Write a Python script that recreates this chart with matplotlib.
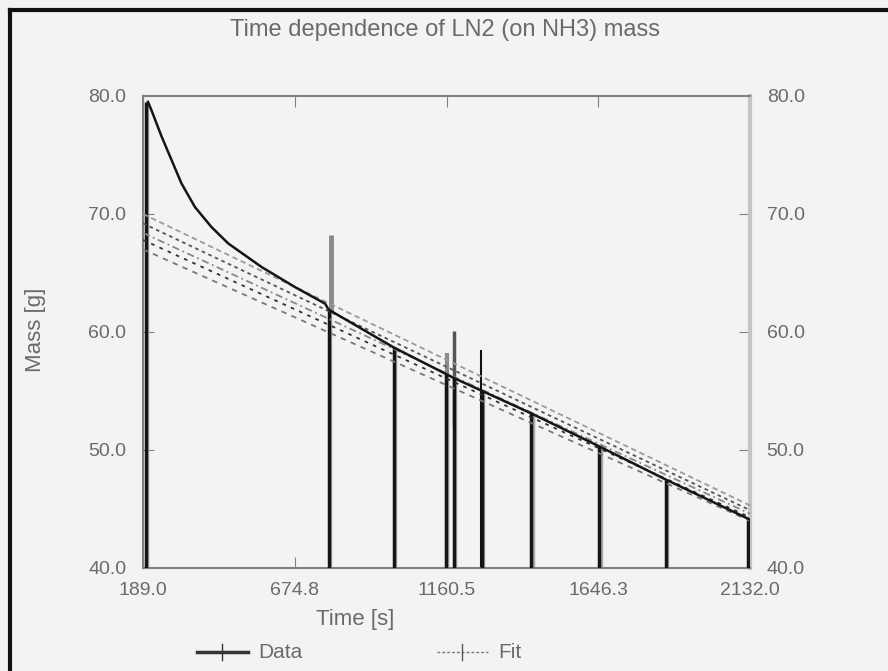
import numpy as np
import matplotlib.pyplot as plt
from matplotlib.lines import Line2D

plt.rcParams['font.family'] = ['Liberation Sans Narrow', 'Liberation Sans', 'DejaVu Sans']

# data curve (time [s], mass [g])
data_t = [205, 216, 248, 280, 312, 355, 408, 462, 569, 676, 772, 783, 991, 1184, 1432, 1650, 1862, 2132]
data_m = [79.5, 78.8, 76.6, 74.6, 72.6, 70.6, 68.9, 67.5, 65.5, 63.8, 62.4, 61.9, 58.7, 56.1, 53.1, 50.3, 47.5, 44.1]

# vertical markers from the bottom axis up to the curve
bar_t = [199, 783, 991, 1158, 1184, 1274, 1432, 1650, 1862, 2125]
bar_top = [79.5, 61.9, 58.7, 56.4, 56.1, 55.0, 53.1, 50.3, 47.5, 44.1]

# spikes sticking out above the curve
spike_t = [790, 1163, 1185, 1270]
spike_top = [68.2, 58.2, 60.1, 58.5]
spike_bot = [61.7, 40.0, 52.0, 40.0]
spike_col = ['#8a8a8a', '#8a8a8a', '#555555', '#111111']
spike_w = [3.5, 3.0, 2.5, 1.5]

# fit lines: value at start and end time
fit_t = [189.0, 2132.0]
fit_start = [70.0, 69.2, 68.4, 67.8, 67.0]
fit_end = [45.3, 44.9, 44.6, 44.3, 44.0]
fit_col = ['#9a9a9a', '#555555', '#888888', '#333333', '#777777']
fit_ls = [(0, (3, 2)), (0, (2, 2)), (0, (4, 2, 1, 2)), (0, (2, 3)), (0, (3, 3))]

xticks = [189.0, 674.8, 1160.5, 1646.3, 2132.0]
yticks = [40.0, 50.0, 60.0, 70.0, 80.0]

bg = '#f3f3f3'
txt = '#6a6a6a'

fig = plt.figure(figsize=(8.88, 6.71), dpi=100, facecolor=bg)
ax = fig.add_axes([143 / 888, 1 - 568 / 671, 607 / 888, 472 / 671])
ax.set_facecolor(bg)

# black frame of the window, left and top
fig.add_artist(Line2D([10 / 888, 10 / 888], [0, 1 - 10 / 671], color='#111111', lw=3, transform=fig.transFigure))
fig.add_artist(Line2D([10 / 888, 1], [1 - 10 / 671, 1 - 10 / 671], color='#111111', lw=3, transform=fig.transFigure))

for t, m, b, c, w in zip(spike_t, spike_top, spike_bot, spike_col, spike_w):
    ax.vlines(t, b, m, color=c, lw=w, zorder=2)

for t, m in zip(bar_t, bar_top):
    ax.vlines(t + 4, 40, m, color='#aaaaaa', lw=2.5, zorder=2)
    ax.vlines(t, 40, m, color='#151515', lw=2.5, zorder=3)

for s, e, c, ls in zip(fit_start, fit_end, fit_col, fit_ls):
    ax.plot(fit_t, [s, e], color=c, ls=ls, lw=1.3, zorder=3)

ax.plot(data_t, data_m, color='#151515', lw=1.8, zorder=4)

ax.set_xlim(189.0, 2132.0)
ax.set_ylim(40.0, 80.0)
ax.set_xticks(xticks)
ax.set_xticklabels([f'{v:.1f}' for v in xticks])
ax.set_yticks(yticks)
ax.set_yticklabels([f'{v:.1f}' for v in yticks])
ax.tick_params(axis='both', direction='in', length=8, color='#808080', labelcolor=txt, labelsize=14)
ax.tick_params(axis='x', top=True, pad=10)
ax.tick_params(axis='y', right=True, labelright=True, pad=12)

for side in ['left', 'bottom', 'top']:
    ax.spines[side].set_color('#808080')
    ax.spines[side].set_linewidth(1.5)
ax.spines['right'].set_color('#c4c4c4')
ax.spines['right'].set_linewidth(3)

fig.text(355 / 888, 1 - 620 / 671, 'Time [s]', color=txt, fontsize=16, ha='center', va='center')
fig.text(35 / 888, 1 - 330 / 671, 'Mass [g]', color=txt, fontsize=16, ha='center', va='center',
         rotation=90)
fig.text(445 / 888, 1 - 30 / 671, 'Time dependence of LN2 (on NH3) mass', color=txt,
         fontsize=17, ha='center', va='center')

# legend drawn by hand at the bottom
ly = 1 - 652 / 671
fig.add_artist(Line2D([197 / 888, 248 / 888], [ly, ly], color='#333333', lw=2.5, transform=fig.transFigure))
fig.add_artist(Line2D([222 / 888, 222 / 888], [ly - 0.012, ly + 0.012], color='#333333', lw=1, transform=fig.transFigure))
fig.text(258 / 888, ly, 'Data', color=txt, fontsize=15, va='center')
fig.add_artist(Line2D([437 / 888, 488 / 888], [ly, ly], color='#777777', lw=1, ls=(0, (2, 1.5)), transform=fig.transFigure))
fig.add_artist(Line2D([462 / 888, 462 / 888], [ly - 0.012, ly + 0.012], color='#555555', lw=1, transform=fig.transFigure))
fig.text(498 / 888, ly, 'Fit', color=txt, fontsize=15, va='center')

fig.savefig('out.png', dpi=100, facecolor=bg)
